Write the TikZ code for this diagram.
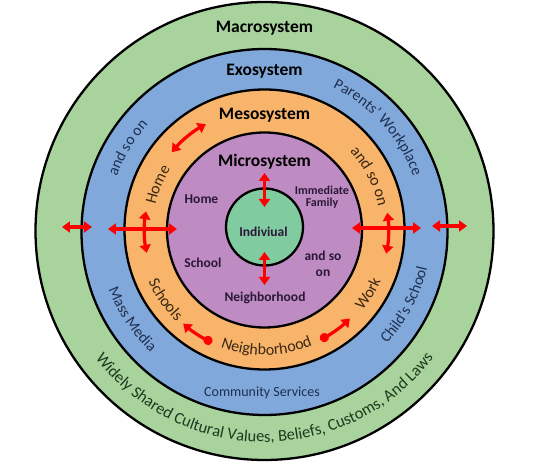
\documentclass[tikz,border=0pt]{standalone}
\usepackage{fontspec}
\setmainfont{Carlito}
\usetikzlibrary{decorations.text,arrows.meta}
\definecolor{macroc}{HTML}{A8D39C}
\definecolor{exoc}{HTML}{80A8DA}
\definecolor{mesoc}{HTML}{F8B46B}
\definecolor{microc}{HTML}{BE8BC2}
\definecolor{indivc}{HTML}{80CB9F}
\definecolor{bluetxt}{HTML}{1F2F50}
\definecolor{orangetxt}{HTML}{3A2812}
\definecolor{greentxt}{HTML}{1E3A1E}
\definecolor{purptxt}{HTML}{2B1838}
\definecolor{arrowred}{HTML}{FF0000}
\begin{document}
\begin{tikzpicture}[x=1pt,y=1pt,
  ring/.style={circle, draw=black, line width=2.3pt, inner sep=0pt},
  title/.style={font=\fontsize{17.5}{20}\selectfont\bfseries, text=black, anchor=base, inner sep=0pt},
  inner/.style={font=\fontsize{13.5}{15}\selectfont\bfseries, text=purptxt, anchor=base, inner sep=0pt},
  redarrow/.style={draw=arrowred, line width=3.2pt, arrows={Triangle[length=8pt,width=11pt]-Triangle[length=8pt,width=11pt]}},
  redarrowc/.style={draw=arrowred, line width=3.2pt, arrows={Triangle[length=8pt,width=11pt]-Circle[length=9pt]}},
  redarrowcr/.style={draw=arrowred, line width=3.2pt, arrows={Circle[length=9pt]-Triangle[length=8pt,width=11pt]}}
]
\useasboundingbox (-264.5,-235) rectangle (268.5,230);
\fill[white] (-264.5,-235) rectangle (268.5,230);

% rings
\node[ring, fill=macroc, minimum size=458pt] (macro) at (0,-1) {};
\node[ring, fill=exoc, minimum size=366pt] (exo) at (0,-2) {};
\node[ring, fill=mesoc, minimum size=280pt] (meso) at (0,0.5) {};
\node[ring, fill=microc, minimum size=195pt] (micro) at (0,0) {};
\node[ring, fill=indivc, minimum size=77pt] (indiv) at (0,3) {};

% titles
\node[title] (tmacro) at (0,197) {Macrosystem};
\node[title] (texo) at (0,154) {Exosystem};
\node[title] (tmeso) at (0,110) {Mesosystem};
\node[title] (tmicro) at (0,63) {Microsystem};

% inner texts
\node[inner] (tind) at (-1,-7) {Indiviual};
\node[inner] (thome) at (-63,26) {Home};
\node[inner, font=\fontsize{12}{14}\selectfont\bfseries] (timm) at (57.5,35) {Immediate};
\node[inner, font=\fontsize{12}{14}\selectfont\bfseries] (tfam) at (57.5,23) {Family};
\node[inner] (tand) at (58.5,-31) {and so};
\node[inner] (ton) at (58.5,-47) {on};
\node[inner] (tschool) at (-61.5,-38) {School};
\node[inner] (tneigh) at (0.5,-72) {Neighborhood};

% exosystem (blue ring) texts
\path[decorate, decoration={text along path, text align=center,
  text={|\fontsize{15.5}{18}\selectfont\color{bluetxt}|Parents’ Workplace}}]
  (80:158pt) arc[start angle=80, end angle=4, radius=158pt];
\path[decorate, decoration={text along path, text align=center,
  text={|\fontsize{15.5}{18}\selectfont\color{bluetxt}|and so on}}]
  (185:157pt) arc[start angle=185, end angle=113, radius=157pt];
\path[decorate, decoration={text along path, text align=center,
  text={|\fontsize{15.5}{18}\selectfont\color{bluetxt}|Mass Media}}]
  (180:167pt) arc[start angle=180, end angle=248, radius=167pt];
\path[decorate, decoration={text along path, text align=center,
  text={|\fontsize{15.5}{18}\selectfont\color{bluetxt}|Child’s School}}]
  (295:167pt) arc[start angle=295, end angle=369, radius=167pt];
\node[anchor=base, inner sep=0pt, font=\fontsize{14}{16}\selectfont, text=bluetxt] (tcomm) at (-2.5,-167) {Community Services};

% macrosystem (green ring) text
\path[decorate, decoration={text along path, text align=center,
  text={|\fontsize{16.5}{19}\selectfont\color{greentxt}|Widely Shared Cultural Values, Beliefs, Customs, And Laws}}]
  (180:212pt) arc[start angle=180, end angle=360, radius=212pt];

% mesosystem (orange ring) texts
\path[decorate, decoration={text along path, text align=center,
  text={|\fontsize{16}{18}\selectfont\color{orangetxt}|Home}}]
  (190:112pt) arc[start angle=190, end angle=124, radius=112pt];
\path[decorate, decoration={text along path, text align=center,
  text={|\fontsize{16}{18}\selectfont\color{orangetxt}|and so on}}]
  (62:116pt) arc[start angle=62, end angle=-8, radius=116pt];
\path[decorate, decoration={text along path, text align=center,
  text={|\fontsize{16}{18}\selectfont\color{orangetxt}|Schools}}]
  (185:127pt) arc[start angle=185, end angle=245, radius=127pt];
\path[decorate, decoration={text along path, text align=center,
  text={|\fontsize{16}{18}\selectfont\color{orangetxt}|Neighborhood}}]
  (235:125pt) arc[start angle=235, end angle=307, radius=125pt];
\path[decorate, decoration={text along path, text align=center,
  text={|\fontsize{16}{18}\selectfont\color{orangetxt}|Work}}]
  (305:127pt) arc[start angle=305, end angle=352, radius=127pt];

% arrow end points
\coordinate (a1t) at (0,57);   \coordinate (a1b) at (0,23);
\coordinate (a2t) at (0,-22);  \coordinate (a2b) at (0,-55);
\coordinate (l1a) at (-156.5,1); \coordinate (l1b) at (-87.5,1);
\coordinate (l2a) at (-202.5,3); \coordinate (l2b) at (-172.5,3);
\coordinate (r1a) at (87.5,2);   \coordinate (r1b) at (156.5,2);
\coordinate (r2a) at (167.5,4);  \coordinate (r2b) at (202.5,4);

% red arrows
\draw[redarrow] (a1t) -- (a1b);
\draw[redarrow] (a2t) -- (a2b);
\draw[redarrow] (l1a) -- (l1b);
\draw[redarrow] (l2a) -- (l2b);
\draw[redarrow] (r1a) -- (r1b);
\draw[redarrow] (r2a) -- (r2b);
\draw[redarrow] (171:120pt) arc[start angle=171, end angle=191, radius=120pt];
\draw[redarrow] (8:124pt) arc[start angle=8, end angle=-11, radius=124pt];
\draw[redarrow] (140:121pt) arc[start angle=140, end angle=119, radius=121pt];
\draw[redarrowc] (229:124pt) arc[start angle=229, end angle=245, radius=124pt];
\draw[redarrowcr] (297:123pt) arc[start angle=297, end angle=314, radius=123pt];
\end{tikzpicture}
\end{document}
